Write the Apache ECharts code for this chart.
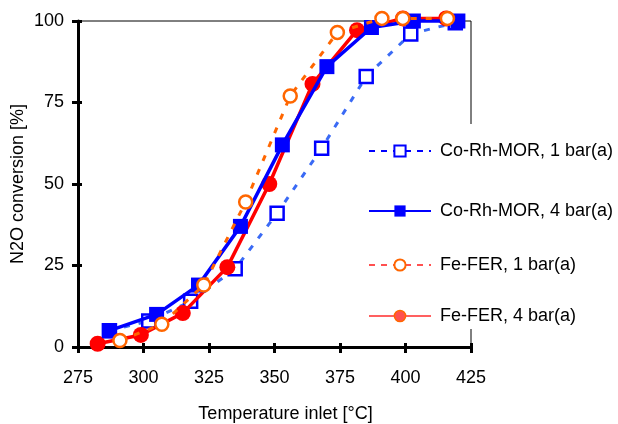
<!DOCTYPE html>
<html>
<head>
<meta charset="utf-8">
<script src="https://cdn.jsdelivr.net/npm/echarts@6/dist/echarts.min.js"></script>
<style>
html,body{margin:0;padding:0;background:#fff;}
#c{width:618px;height:424px;}
</style>
</head>
<body>
<div id="c"></div>
<script>
// Data
const seriesNames = ['Co-Rh-MOR, 1 bar(a)', 'Co-Rh-MOR, 4 bar(a)', 'Fe-FER, 1 bar(a)', 'Fe-FER, 4 bar(a)'];
const coRh1Temp = [287, 302, 318, 335, 351, 368, 385, 402, 419];
const coRh1Conv = [5, 8, 14, 24, 41, 61, 83, 96, 99.5];
const coRh4Temp = [287, 305, 321, 337, 353, 370, 387, 403, 420];
const coRh4Conv = [5, 10, 19, 37, 62, 86, 98, 100, 100];
const feFer1Temp = [291, 307, 323, 339, 356, 374, 391, 399, 416];
const feFer1Conv = [2, 7, 19, 44.5, 77, 96.5, 100.8, 100.8, 100.8];
const feFer4Temp = [282.5, 299, 315, 332, 348, 364.5, 381.5, 399, 415.5];
const feFer4Conv = [1, 3.7, 10.4, 24.5, 50, 80.7, 97.2, 100.8, 100.8];
const xTicks = [275, 300, 325, 350, 375, 400, 425];
const yTicks = [0, 25, 50, 75, 100];

function pairs(xs, ys) { return xs.map((x, i) => [x, ys[i]]); }

const font = 'Arial, "Liberation Sans", sans-serif';
const fs = 18;
const chart = echarts.init(document.getElementById('c'), null, {renderer: 'canvas'});

function legendFor(idx, top, itemStyle, lineStyle) {
  return {
    show: true,
    orient: 'vertical',
    left: 368,
    top: top,
    itemWidth: 62,
    itemHeight: 14,
    padding: 0,
    data: [{name: seriesNames[idx], itemStyle: itemStyle, lineStyle: lineStyle}],
    textStyle: {fontFamily: font, fontSize: fs, color: '#000', padding: [0, 0, 0, 4]},
    z: 10
  };
}

const xMin = xTicks[0], xMax = xTicks[xTicks.length - 1];
const yMin = yTicks[0], yMax = yTicks[yTicks.length - 1];

const option = {
  backgroundColor: '#fff',
  animation: false,
  grid: {left: 78, right: 147, top: 21, bottom: 77, show: true, borderColor: '#000', borderWidth: 1, backgroundColor: 'transparent', containLabel: false, outerBoundsMode: 'none'},
  xAxis: [{
    type: 'value', min: xMin, max: xMax, interval: 25,
    name: 'Temperature inlet [°C]', nameLocation: 'middle', nameGap: 58, nameMoveOverlap: false,
    nameTextStyle: {fontFamily: font, fontSize: fs, color: '#000', padding: [0, 0, 0, 22]},
    axisLine: {show: true, onZero: false, lineStyle: {color: '#000', width: 3}},
    axisTick: {show: true, length: 6, lineStyle: {color: '#000', width: 3}},
    axisLabel: {fontFamily: font, fontSize: fs, color: '#000', margin: 22},
    splitLine: {show: false}
  }, {
    type: 'value', min: xMin, max: xMax, interval: 25, position: 'bottom',
    axisLine: {show: false, onZero: false},
    axisTick: {show: true, inside: true, length: 4, lineStyle: {color: '#000', width: 3}},
    axisLabel: {show: false}, splitLine: {show: false}
  }],
  yAxis: [{
    type: 'value', min: yMin, max: yMax, interval: 25,
    name: 'N2O conversion [%]', nameLocation: 'middle', nameGap: 51, nameMoveOverlap: false,
    nameTextStyle: {fontFamily: font, fontSize: fs, color: '#000'},
    axisLine: {show: true, onZero: false, lineStyle: {color: '#000', width: 3}},
    axisTick: {show: true, length: 6, lineStyle: {color: '#000', width: 3}},
    axisLabel: {fontFamily: font, fontSize: fs, color: '#000', margin: 14},
    splitLine: {show: false}
  }, {
    type: 'value', min: yMin, max: yMax, interval: 25, position: 'left', offset: 0,
    axisLine: {show: false, onZero: false},
    axisTick: {show: true, inside: true, length: 4, lineStyle: {color: '#000', width: 3}},
    axisLabel: {show: false}, splitLine: {show: false}
  }],
  legend: [
    legendFor(0, 142, {color: '#fff', borderColor: '#0000FF', borderWidth: 2}, {color: '#0000FF', type: [6, 6], width: 2}),
    legendFor(1, 202, {color: '#0000FF', borderWidth: 0}, {color: '#0000FF', type: 'solid', width: 2}),
    legendFor(2, 256, {color: '#fff', borderColor: '#FF6600', borderWidth: 2}, {color: '#FF5050', type: [6, 6], width: 2}),
    legendFor(3, 307, {color: '#FF5050', borderColor: '#FF6600', borderWidth: 1.5}, {color: '#FF6060', type: 'solid', width: 2})
  ],
  graphic: [{
    type: 'rect', left: 466, top: 124, shape: {width: 12, height: 205},
    style: {fill: '#fff'}, z: 5, silent: true
  }],
  series: [
    {
      name: seriesNames[0], type: 'line', data: pairs(coRh1Temp, coRh1Conv), clip: false,
      symbol: 'rect', symbolSize: 13,
      lineStyle: {color: '#3A6AF5', width: 3, type: [6, 9]},
      itemStyle: {color: '#fff', borderColor: '#0000FF', borderWidth: 2.5}, z: 2
    },
    {
      name: seriesNames[3], type: 'line', data: pairs(feFer4Temp, feFer4Conv), clip: false,
      symbol: 'circle', symbolSize: 16,
      lineStyle: {color: '#FF0000', width: 3.5, type: 'solid'},
      itemStyle: {color: '#FF0000', borderWidth: 0}, z: 3
    },
    {
      name: seriesNames[1], type: 'line', data: pairs(coRh4Temp, coRh4Conv), clip: false,
      symbol: 'rect', symbolSize: 15,
      lineStyle: {color: '#0000FF', width: 3.5, type: 'solid'},
      itemStyle: {color: '#0000FF', borderWidth: 0}, z: 4
    },
    {
      name: seriesNames[2], type: 'line', data: pairs(feFer1Temp, feFer1Conv), clip: false,
      symbol: 'circle', symbolSize: 13,
      lineStyle: {color: '#FF6600', width: 3, type: [6, 9]},
      itemStyle: {color: '#fff', borderColor: '#FF6600', borderWidth: 2.5}, z: 5
    }
  ]
};
chart.setOption(option);
</script>
</body>
</html>
